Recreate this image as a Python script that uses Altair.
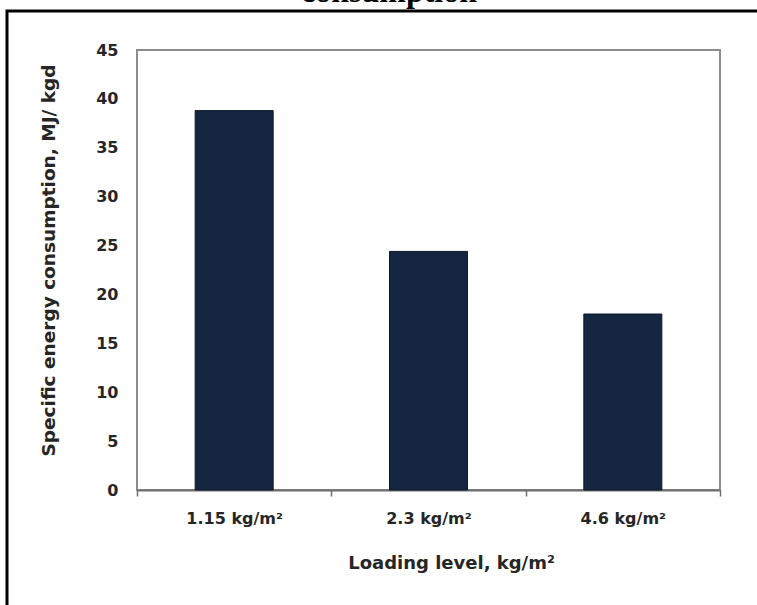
import altair as alt
import pandas as pd

# Specific energy consumption for each loading level
loading = ["1.15 kg/m²", "2.3 kg/m²", "4.6 kg/m²"]
energy = [38.8, 24.4, 18.0]
y_ticks = [0, 5, 10, 15, 20, 25, 30, 35, 40, 45]
heading = ["consumption"]

df = pd.DataFrame({"loading": loading, "energy": energy})
head_df = pd.DataFrame({"t": heading})

label_font = "DejaVu Sans"
text_color = "#262626"

# outer frame around the figure
frame = alt.Chart(head_df).mark_rect(
    fillOpacity=0, stroke="#000000", strokeWidth=3
).encode(
    x=alt.value(-130), x2=alt.value(720),
    y=alt.value(-39), y2=alt.value(640),
)

bars = alt.Chart(df).mark_bar(
    size=78, color="#142640", stroke="#0c182b", strokeWidth=1
).encode(
    x=alt.X(
        "loading:N", sort=loading,
        scale=alt.Scale(paddingInner=0, paddingOuter=0),
        axis=alt.Axis(
            title="Loading level, kg/m²", labelAngle=0, tickBand="extent",
            domainColor="#6e6e6e", domainWidth=2, tickColor="#6e6e6e",
            tickSize=6, tickWidth=1.5,
            labelFont=label_font, labelFontSize=16, labelFontWeight="bold",
            labelColor=text_color, labelPadding=14,
            titleFont=label_font, titleFontSize=18, titleFontWeight="bold",
            titleColor=text_color, titlePadding=28, titleX=314,
        ),
    ),
    y=alt.Y(
        "energy:Q",
        scale=alt.Scale(domain=[0, 45], nice=False),
        axis=alt.Axis(
            title="Specific energy consumption, MJ/ kgd", values=y_ticks,
            ticks=False, tickSize=0, domain=False, grid=False,
            labelFont=label_font, labelFontSize=16, labelFontWeight="bold",
            labelColor=text_color, labelPadding=19,
            titleFont=label_font, titleFontSize=18.5, titleFontWeight="bold",
            titleColor=text_color, titlePadding=37, titleY=210,
        ),
    ),
)

title_text = alt.Chart(head_df).mark_text(
    font="Liberation Serif", fontSize=32, fontWeight="bold",
    align="center", baseline="alphabetic", color="#000000",
).encode(
    text="t:N", x=alt.value(252), y=alt.value(-48),
)

chart = alt.layer(frame, bars, title_text).properties(
    width=583, height=440,
    autosize=alt.AutoSizeParams(type="none"),
    padding={"left": 137, "top": 50, "right": 37, "bottom": 115},
    background="#ffffff",
).configure_view(
    stroke="#8c8c8c", strokeWidth=2
)

chart.save("out.html", embed_options={"renderer": "svg", "actions": False})
